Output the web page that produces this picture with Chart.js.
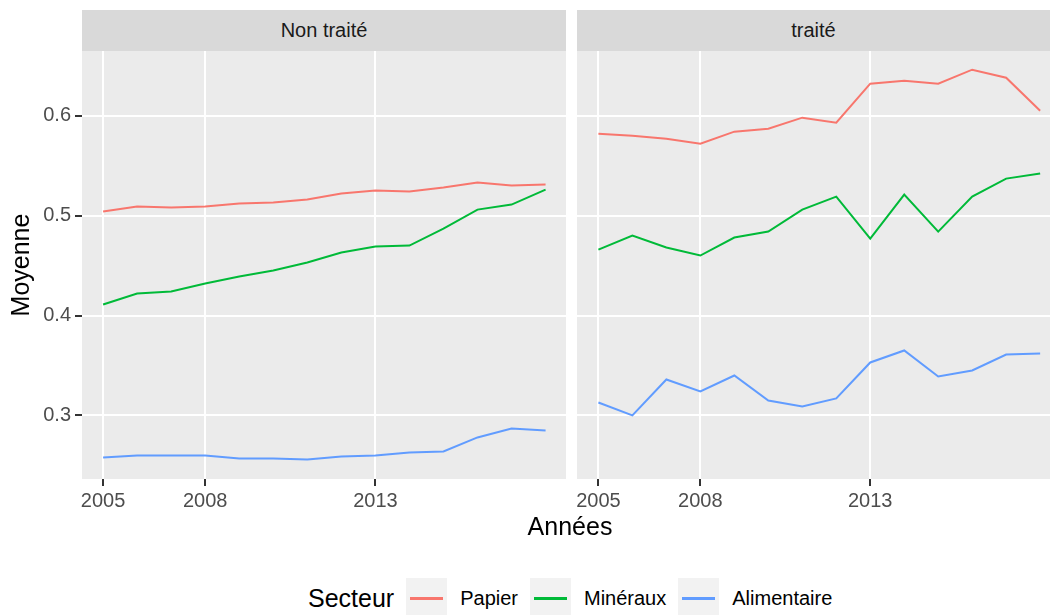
<!DOCTYPE html>
<html>
<head>
<meta charset="utf-8">
<title>Moyenne par secteur</title>
<script src="https://cdn.jsdelivr.net/npm/chart.js"></script>
<style>
	body { margin: 0; width: 1050px; height: 615px; overflow: hidden; background: #fff; position: relative;
		font-family: "Liberation Sans", Arial, sans-serif; }
	canvas { position: absolute; }
	.strip { position: absolute; top: 10px; height: 41px; line-height: 41px; background: #d9d9d9;
		color: #1a1a1a; font-size: 20px; text-align: center; }
	#xtitle { position: absolute; left: 470px; width: 200px; top: 511px; font-size: 25px; line-height: 30px;
		text-align: center; color: #000; }
	#legend { position: absolute; left: 308px; top: 578px; height: 41px; display: flex; align-items: center; }
	#legend .title { font-size: 25px; margin-right: 12px; color: #000; }
	#legend .key { width: 41px; height: 41px; background: #f2f2f2; display: flex; align-items: center; justify-content: center; }
	#legend .key div { width: 33px; height: 2.5px; }
	#legend .label { font-size: 20px; margin: 0 12px 0 13px; color: #000; }
</style>
</head>
<body>

<div class="strip" style="left: 82px; width: 484px;">Non traité</div>
<div class="strip" style="left: 577px; width: 473px;">traité</div>

<canvas id="nonTraite" width="566" height="473" style="left: 0; top: 51px;"></canvas>
<canvas id="traite" width="483" height="473" style="left: 567px; top: 51px;"></canvas>

<div id="xtitle">Années</div>
<div id="legend"></div>

<script>
	// --- data ---
	const years = [2005, 2006, 2007, 2008, 2009, 2010, 2011, 2012, 2013, 2014, 2015, 2016, 2017, 2018];
	const xTicks = [2005, 2008, 2013];
	const yTicks = [0.3, 0.4, 0.5, 0.6];
	const secteurs = ['Papier', 'Minéraux', 'Alimentaire'];
	const couleurs = ['#F8766D', '#00BA38', '#619CFF'];

	const nonTraitePapier = [0.504, 0.509, 0.508, 0.509, 0.512, 0.513, 0.516, 0.522, 0.525, 0.524, 0.528, 0.533, 0.530, 0.531];
	const nonTraiteMineraux = [0.411, 0.422, 0.424, 0.432, 0.439, 0.445, 0.453, 0.463, 0.469, 0.470, 0.487, 0.506, 0.511, 0.526];
	const nonTraiteAlimentaire = [0.258, 0.260, 0.260, 0.260, 0.257, 0.257, 0.256, 0.259, 0.260, 0.263, 0.264, 0.278, 0.287, 0.285];

	const traitePapier = [0.582, 0.580, 0.577, 0.572, 0.584, 0.587, 0.598, 0.593, 0.632, 0.635, 0.632, 0.646, 0.638, 0.605];
	const traiteMineraux = [0.466, 0.480, 0.468, 0.460, 0.478, 0.484, 0.506, 0.519, 0.477, 0.521, 0.484, 0.519, 0.537, 0.542];
	const traiteAlimentaire = [0.313, 0.300, 0.336, 0.324, 0.340, 0.315, 0.309, 0.317, 0.353, 0.365, 0.339, 0.345, 0.361, 0.362];

	const fontFamily = '"Liberation Sans", Arial, sans-serif';

	function points(values) {
		return values.map(function (v, i) { return { x: years[i], y: v }; });
	}

	// grey panel background, ggplot style
	const panelBg = {
		id: 'panelBg',
		beforeDraw: function (chart) {
			const a = chart.chartArea;
			const ctx = chart.ctx;
			ctx.save();
			ctx.fillStyle = '#ebebeb';
			ctx.fillRect(a.left, a.top, a.right - a.left, a.bottom - a.top);
			ctx.restore();
		}
	};

	function makePanel(id, series, xMin, xMax, withYAxis) {
		const datasets = series.map(function (values, i) {
			return {
				label: secteurs[i],
				data: points(values),
				borderColor: couleurs[i],
				backgroundColor: couleurs[i],
				borderWidth: 2,
				pointRadius: 0,
				tension: 0
			};
		});

		new Chart(document.getElementById(id), {
			type: 'line',
			data: { datasets: datasets },
			plugins: [panelBg],
			options: {
				responsive: false,
				animation: false,
				layout: { padding: 0 },
				plugins: {
					legend: { display: false },
					tooltip: { enabled: false }
				},
				scales: {
					x: {
						type: 'linear',
						min: xMin,
						max: xMax,
						afterBuildTicks: function (s) { s.ticks = xTicks.map(function (v) { return { value: v }; }); },
						afterFit: function (s) { s.height = 45; s.paddingLeft = 0; s.paddingRight = 0; },
						border: { display: false },
						grid: { color: '#ffffff', lineWidth: 2, tickColor: '#333333', tickLength: 7, tickWidth: 2 },
						ticks: {
							color: '#4d4d4d',
							font: { size: 20, family: fontFamily },
							padding: 3,
							maxRotation: 0,
							callback: function (v) { return String(v); }
						}
					},
					y: {
						type: 'linear',
						min: 0.2364,
						max: 0.6647,
						afterBuildTicks: function (s) { s.ticks = yTicks.map(function (v) { return { value: v }; }); },
						afterFit: function (s) {
							s.width = withYAxis ? 82 : 10;
							s.paddingTop = 0;
							s.paddingBottom = 0;
						},
						border: { display: false },
						grid: withYAxis
							? { color: '#ffffff', lineWidth: 2, tickColor: '#333333', tickLength: 7, tickWidth: 2 }
							: { color: '#ffffff', lineWidth: 2, drawTicks: false, tickLength: 0 },
						title: {
							display: withYAxis,
							text: 'Moyenne',
							color: '#000000',
							font: { size: 25, family: fontFamily },
							padding: { top: 7, bottom: 0 }
						},
						ticks: {
							display: withYAxis,
							color: '#4d4d4d',
							font: { size: 20, family: fontFamily },
							padding: 4,
							callback: function (v) { return v.toFixed(1); }
						}
					}
				}
			}
		});
	}

	makePanel('nonTraite', [nonTraitePapier, nonTraiteMineraux, nonTraiteAlimentaire], 2004.38, 2018.6, true);
	makePanel('traite', [traitePapier, traiteMineraux, traiteAlimentaire], 2004.37, 2018.29, false);

	// legend below the panels
	const legend = document.getElementById('legend');
	let html = '<span class="title">Secteur</span>';
	secteurs.forEach(function (name, i) {
		html += '<span class="key"><div style="background:' + couleurs[i] + '"></div></span>';
		html += '<span class="label">' + name + '</span>';
	});
	legend.innerHTML = html;
</script>
</body>
</html>
